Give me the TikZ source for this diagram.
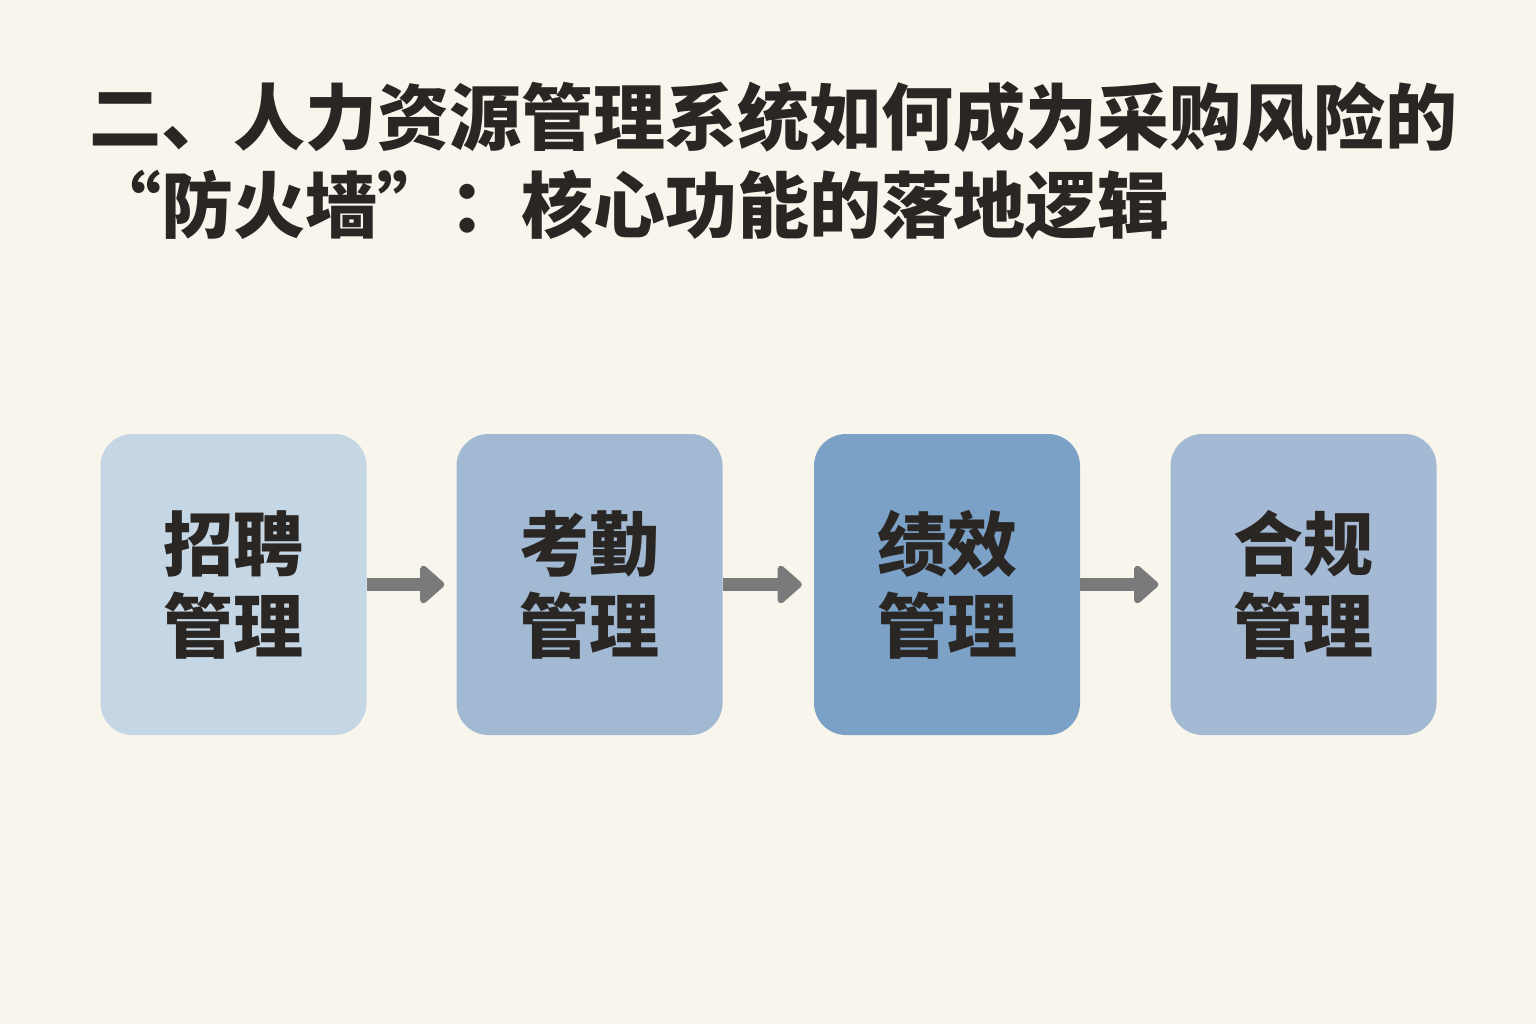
\documentclass[tikz,border=0pt]{standalone}
\usepackage{fontspec}
\setmainfont{Noto Sans CJK SC}
\usetikzlibrary{arrows.meta}
\definecolor{bgcol}{HTML}{F8F5EC}
\definecolor{ink}{HTML}{2A2623}
\definecolor{cA}{HTML}{C5D6E4}
\definecolor{cB}{HTML}{A1B9D3}
\definecolor{cC}{HTML}{7BA1C7}
\definecolor{cD}{HTML}{A3B9D4}
\definecolor{arr}{HTML}{7A7A7A}
\tikzset{
  box/.style={rectangle, rounded corners=32pt, minimum width=266pt, minimum height=301pt, inner sep=0pt,
    text=ink, align=center, font=\fontsize{70}{82}\selectfont\bfseries},
  title/.style={anchor=base west, inner sep=0pt, text=ink, font=\fontsize{72}{86}\selectfont\bfseries},
  flow/.style={draw=arr, line width=13pt, -{Triangle[length=26pt, width=44pt, round]}, arr}
}
\begin{document}
\begin{tikzpicture}[x=1pt, y=-1pt]
\fill[bgcol] (0,0) rectangle (1536,1024);
\useasboundingbox (0,0) rectangle (1536,1024);
\node[title] (t1) at (89,145) {二、人力资源管理系统如何成为采购风险的};
\node[title] (t2) at (89,233) {“防火墙”：核心功能的落地逻辑};
\node[box, fill=cA] (b1) at (233.5,584.5) {招聘\\管理};
\node[box, fill=cB] (b2) at (589.5,584.5) {考勤\\管理};
\node[box, fill=cC] (b3) at (947,584.5) {绩效\\管理};
\node[box, fill=cD] (b4) at (1303.5,584.5) {合规\\管理};
\draw[flow] (b1.east) -- ([xshift=-12pt]b2.west);
\draw[flow] (b2.east) -- ([xshift=-12pt]b3.west);
\draw[flow] (b3.east) -- ([xshift=-12pt]b4.west);
\end{tikzpicture}
\end{document}
